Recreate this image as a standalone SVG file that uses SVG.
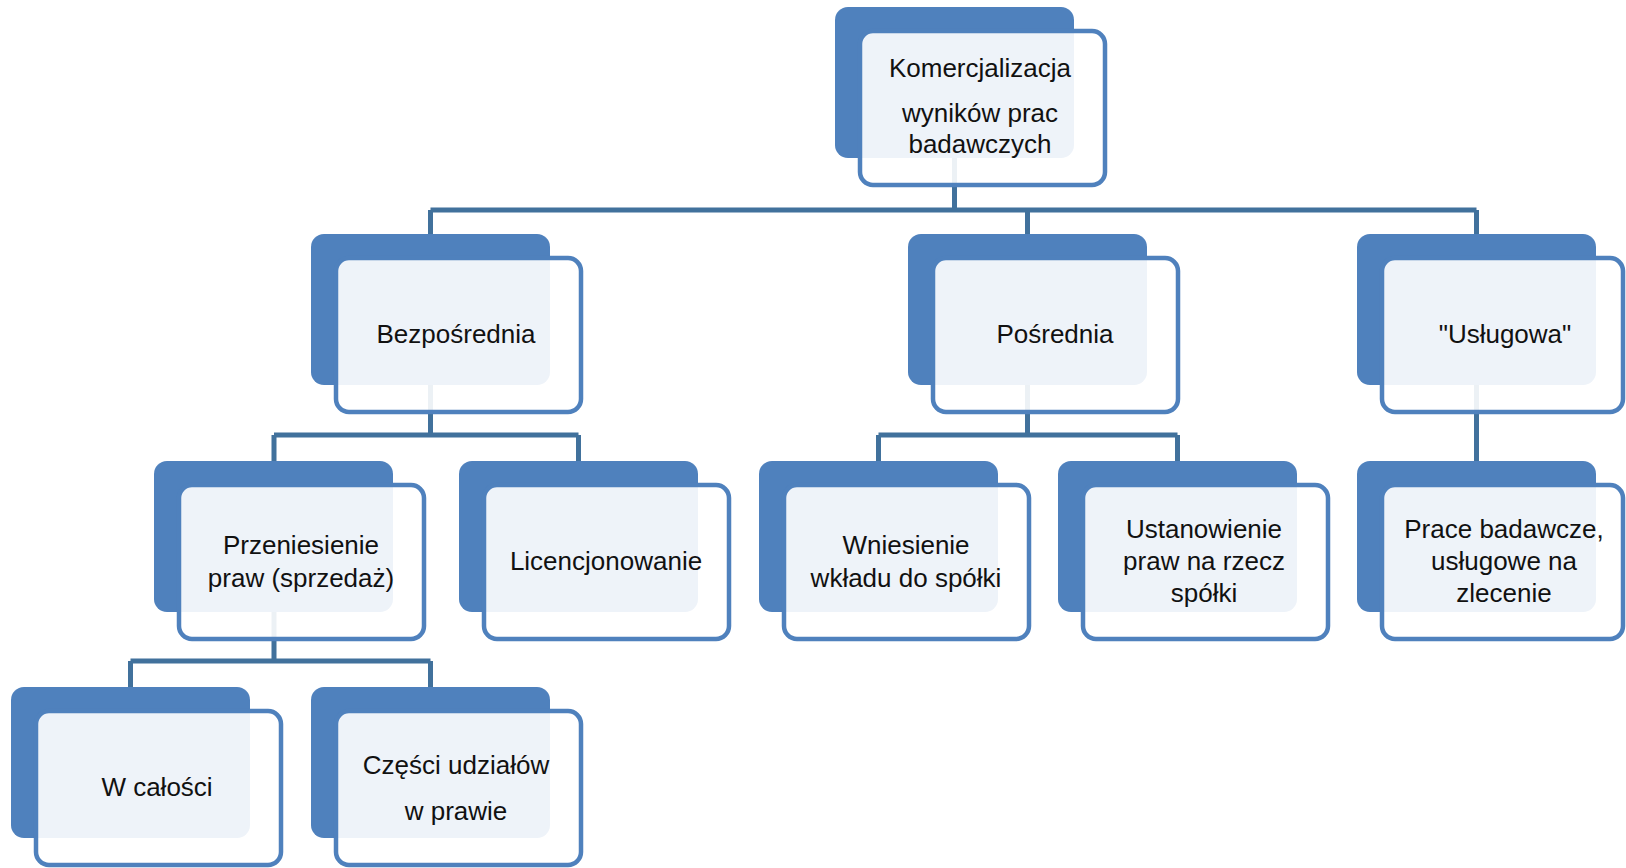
<svg xmlns="http://www.w3.org/2000/svg" width="1626" height="868" viewBox="0 0 1626 868">
<style>
.bk{fill:#4F81BD}
.fr{fill:#FFFFFF;fill-opacity:0.9;stroke:#4F81BD;stroke-width:4.5}
.c{fill:none;stroke:#41719C;stroke-width:5}
text{font-family:"Liberation Sans",Arial,sans-serif;font-size:26px;fill:#111;text-anchor:middle}
</style>
<rect x="0" y="0" width="1626" height="868" fill="#FFFFFF"/>
<g id="connectors">
<path class="c" d="M954.5,150 V210 M430.5,210 H1476.5 M430.5,210 V236 M1027.5,210 V236 M1476.5,210 V236"/>
<path class="c" d="M430.5,380 V435 M274,435 H578.5 M274,435 V463 M578.5,435 V463"/>
<path class="c" d="M1027.5,380 V435 M878.5,435 H1177.5 M878.5,435 V463 M1177.5,435 V463"/>
<path class="c" d="M1476.5,380 V463"/>
<path class="c" d="M274,605 V661 M130.5,661 H430.5 M130.5,661 V689 M430.5,661 V689"/>
</g>
<g id="n-root">
<rect class="bk" x="835" y="7" width="239" height="151" rx="13"/>
<rect class="fr" x="860" y="31" width="245" height="154" rx="13"/>
<text x="980" y="77">Komercjalizacja</text>
<text x="980" y="122">wyników prac</text>
<text x="980" y="153">badawczych</text>
</g>
<g id="n-bezposrednia">
<rect class="bk" x="311" y="234" width="239" height="151" rx="13"/>
<rect class="fr" x="336" y="258" width="245" height="154" rx="13"/>
<text x="456" y="343">Bezpośrednia</text>
</g>
<g id="n-posrednia">
<rect class="bk" x="908" y="234" width="239" height="151" rx="13"/>
<rect class="fr" x="933" y="258" width="245" height="154" rx="13"/>
<text x="1055" y="343">Pośrednia</text>
</g>
<g id="n-uslugowa">
<rect class="bk" x="1357" y="234" width="239" height="151" rx="13"/>
<rect class="fr" x="1382" y="258" width="241" height="154" rx="13"/>
<text x="1505" y="343">"Usługowa"</text>
</g>
<g id="n-przeniesienie">
<rect class="bk" x="154" y="461" width="239" height="151" rx="13"/>
<rect class="fr" x="179" y="485" width="245" height="154" rx="13"/>
<text x="301" y="554">Przeniesienie</text>
<text x="301" y="587">praw (sprzedaż)</text>
</g>
<g id="n-licencjonowanie">
<rect class="bk" x="459" y="461" width="239" height="151" rx="13"/>
<rect class="fr" x="484" y="485" width="245" height="154" rx="13"/>
<text x="606" y="570">Licencjonowanie</text>
</g>
<g id="n-wniesienie">
<rect class="bk" x="759" y="461" width="239" height="151" rx="13"/>
<rect class="fr" x="784" y="485" width="245" height="154" rx="13"/>
<text x="906" y="554">Wniesienie</text>
<text x="906" y="587">wkładu do spółki</text>
</g>
<g id="n-ustanowienie">
<rect class="bk" x="1058" y="461" width="239" height="151" rx="13"/>
<rect class="fr" x="1083" y="485" width="245" height="154" rx="13"/>
<text x="1204" y="538">Ustanowienie</text>
<text x="1204" y="570">praw na rzecz</text>
<text x="1204" y="602">spółki</text>
</g>
<g id="n-prace">
<rect class="bk" x="1357" y="461" width="239" height="151" rx="13"/>
<rect class="fr" x="1382" y="485" width="241" height="154" rx="13"/>
<text x="1504" y="538">Prace badawcze,</text>
<text x="1504" y="570">usługowe na</text>
<text x="1504" y="602">zlecenie</text>
</g>
<g id="n-calosci">
<rect class="bk" x="11" y="687" width="239" height="151" rx="13"/>
<rect class="fr" x="36" y="711" width="245" height="154" rx="13"/>
<text x="157" y="796">W całości</text>
</g>
<g id="n-czesci">
<rect class="bk" x="311" y="687" width="239" height="151" rx="13"/>
<rect class="fr" x="336" y="711" width="245" height="154" rx="13"/>
<text x="456" y="774">Części udziałów</text>
<text x="456" y="820">w prawie</text>
</g>
</svg>
